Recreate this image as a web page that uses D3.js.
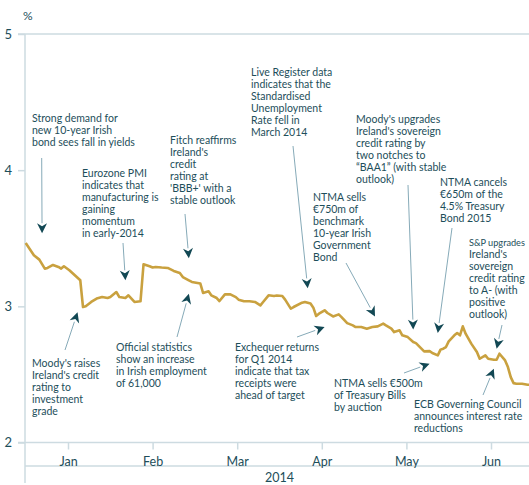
<!DOCTYPE html>
<html>
<head>
<meta charset="utf-8">
<script src="https://cdn.jsdelivr.net/npm/d3@7"></script>
<style>
  body { margin: 0; background: #fff; }
  svg { display: block; font-family: Lato, "Open Sans", sans-serif; }
</style>
</head>
<body>
<svg id="chart" width="529" height="485"></svg>
<script>
// Irish 10-year bond yield, Jan-Jun 2014 (%)
const dates = [
  "2014-01-01","2014-01-04","2014-01-06","2014-01-08","2014-01-09","2014-01-11","2014-01-13","2014-01-14","2014-01-15","2014-01-17","2014-01-19","2014-01-21","2014-01-22","2014-01-23","2014-01-25","2014-01-27","2014-01-29","2014-01-31",
  "2014-02-01","2014-02-03","2014-02-04","2014-02-06","2014-02-07","2014-02-09","2014-02-11","2014-02-12","2014-02-14","2014-02-15","2014-02-16","2014-02-18","2014-02-20","2014-02-22","2014-02-24","2014-02-25","2014-02-27","2014-02-28",
  "2014-03-03","2014-03-04","2014-03-06","2014-03-07","2014-03-09","2014-03-10","2014-03-12","2014-03-14","2014-03-16","2014-03-17","2014-03-19","2014-03-21","2014-03-23","2014-03-25","2014-03-26","2014-03-28","2014-03-30","2014-03-31",
  "2014-04-02","2014-04-03","2014-04-05","2014-04-06","2014-04-09","2014-04-10","2014-04-12","2014-04-13","2014-04-14","2014-04-15","2014-04-17","2014-04-18","2014-04-20","2014-04-22","2014-04-23","2014-04-25","2014-04-27","2014-04-28","2014-04-30",
  "2014-05-02","2014-05-04","2014-05-06","2014-05-08","2014-05-09","2014-05-11","2014-05-12","2014-05-14","2014-05-15","2014-05-17","2014-05-19","2014-05-20","2014-05-22","2014-05-23","2014-05-25","2014-05-26","2014-05-28","2014-05-29","2014-05-30","2014-05-31",
  "2014-06-01","2014-06-03","2014-06-04","2014-06-05","2014-06-06","2014-06-07","2014-06-09","2014-06-11","2014-06-12","2014-06-14","2014-06-15","2014-06-17","2014-06-18","2014-06-19","2014-06-21","2014-06-22","2014-06-23","2014-06-24","2014-06-25","2014-06-27","2014-06-29","2014-06-30"
];
const yields = [
  3.465,3.375,3.343,3.277,3.282,3.304,3.289,3.277,3.294,3.265,3.228,3.191,2.995,3.000,3.032,3.057,3.068,3.061,
  3.068,3.105,3.068,3.061,3.081,3.032,3.037,3.309,3.294,3.285,3.289,3.285,3.282,3.260,3.245,3.215,3.191,3.179,
  3.167,3.098,3.110,3.081,3.061,3.039,3.088,3.088,3.068,3.049,3.037,3.037,3.032,3.007,3.032,3.081,3.076,3.079,
  3.076,3.049,2.983,2.995,3.027,3.032,3.020,2.990,2.929,2.946,2.971,2.951,2.926,2.941,2.921,2.877,2.860,2.848,2.848,
  2.836,2.848,2.853,2.873,2.860,2.836,2.811,2.824,2.787,2.774,2.738,2.730,2.689,2.669,2.671,2.657,2.640,2.682,2.689,2.701,
  2.743,2.787,2.804,2.787,2.853,2.799,2.726,2.664,2.615,2.640,2.615,2.608,2.608,2.652,2.603,2.554,2.480,2.436,2.432,2.432,2.424,2.424
];
const monthLabels = ["Jan","Feb","Mar","Apr","May","Jun"];
const yTicks = [2,3,4,5];
const yearLabel = "2014";

// annotation texts, arrow tip anchored to a date/value
const noteText = [
  ["Strong demand for","new 10-year Irish","bond sees fall in yields"],
  ["Eurozone PMI","indicates that","manufacturing is","gaining","momentum","in early-2014"],
  ["Fitch reaffirms","Ireland's","credit","rating at","'BBB+' with a","stable outlook"],
  ["Live Register data","indicates that the","Standardised","Unemployment","Rate fell in","March 2014"],
  ["Moody's upgrades","Ireland's sovereign","credit rating by","two notches to","\u201cBAA1\u201d (with stable","outlook)"],
  ["NTMA sells","\u20ac750m of","benchmark","10-year Irish","Government","Bond"],
  ["NTMA cancels","\u20ac650m of the","4.5% Treasury","Bond 2015"],
  ["S&P upgrades","Ireland's","sovereign","credit rating","to A- (with","positive","outlook)"],
  ["Moody's raises","Ireland's credit","rating to","investment","grade"],
  ["Official statistics","show an increase","in Irish employment","of 61,000"],
  ["Exchequer returns","for Q1 2014","indicate that tax","receipts were","ahead of target"],
  ["NTMA sells \u20ac500m","of Treasury Bills","by auction"],
  ["ECB Governing Council","announces interest rate","reductions"]
];
const noteTipDate = ["2014-01-07","2014-02-06","2014-02-27","2014-04-11","2014-05-19","2014-05-05","2014-05-28","2014-06-18","2014-01-20","2014-02-27","2014-04-17","2014-05-25","2014-06-17"];
const noteTipValue = [3.537,3.191,3.353,3.132,2.829,2.926,2.805,2.689,2.956,3.093,2.848,2.579,2.542];

// layout of the notes (pixels): text left/top baseline, arrow tail
const noteLayout = [
  {tx:32, ty:122, ax:41.7, ay:158},
  {tx:82, ty:177, ax:123, ay:243},
  {tx:170, ty:144, ax:185, ay:214},
  {tx:251, ty:76, ax:293, ay:146},
  {tx:356, ty:123, ax:408, ay:185},
  {tx:313, ty:201, ax:346, ay:263},
  {tx:440, ty:186, ax:452, ay:228},
  {tx:469, ty:246, ax:502, ay:325},
  {tx:32, ty:367, ax:65, ay:350},
  {tx:116, ty:351, ax:177, ay:337},
  {tx:235, ty:351, ax:297, ay:337},
  {tx:334, ty:387, ax:404, ay:373},
  {tx:414, ty:408, ax:483, ay:395}
];

const W = 529, H = 485;
const gridCol = "#cddbe1", textCol = "#1d4e5a", headCol = "#124854", shaftCol = "#86aab8", lineCol = "#c9a13f";

const parse = d3.timeParse("%Y-%m-%d");
const data = dates.map((d, i) => ({date: parse(d), value: yields[i]}));

const monthStarts = d3.range(7).map(m => new Date(2014, m, 1));
const left = 25.7, monthW = 84.6;
const x = d3.scaleTime()
  .domain(monthStarts)
  .range(monthStarts.map((d, i) => left + i * monthW));
const y = d3.scaleLinear().domain([2, 5]).range([442.5, 34]);

const svg = d3.select("#chart");

// y axis line and ticks
svg.append("line")
  .attr("x1", 25).attr("x2", 25).attr("y1", 34).attr("y2", 483)
  .attr("stroke", gridCol).attr("stroke-width", 1.5);
svg.append("line")
  .attr("x1", 18).attr("x2", W).attr("y1", y(5)).attr("y2", y(5))
  .attr("stroke", gridCol).attr("stroke-width", 1.5);
svg.append("line")
  .attr("x1", 18).attr("x2", W).attr("y1", y(2)).attr("y2", y(2))
  .attr("stroke", gridCol).attr("stroke-width", 1.5);
svg.append("line")
  .attr("x1", 25).attr("x2", W).attr("y1", 466).attr("y2", 466)
  .attr("stroke", gridCol).attr("stroke-width", 1.5);

const yAxis = d3.axisLeft(y).tickValues(yTicks).tickSize(7).tickPadding(6).tickFormat(d3.format("d"));
const gy = svg.append("g").attr("transform", "translate(25,0)").call(yAxis);
gy.select(".domain").remove();
gy.selectAll(".tick line").attr("stroke", gridCol).attr("stroke-width", 1.5);
gy.selectAll(".tick text").attr("fill", textCol).style("font-size", "13px")
  .style("font-family", "Lato, sans-serif");

svg.append("text").attr("x", 23).attr("y", 20).text("%")
  .attr("fill", textCol).style("font-size", "12px");

// x axis: month labels centred in each month
const mids = monthLabels.map((m, i) => new Date((monthStarts[i].getTime() + monthStarts[i + 1].getTime()) / 2));
const xAxis = d3.axisBottom(x).tickValues(mids).tickSize(7).tickPadding(8)
  .tickFormat((d, i) => monthLabels[i]);
const gx = svg.append("g").attr("transform", `translate(0,${y(2)})`).call(xAxis);
gx.select(".domain").remove();
gx.selectAll(".tick line").attr("stroke", gridCol).attr("stroke-width", 1.5);
gx.selectAll(".tick text").attr("fill", textCol).style("font-size", "12.5px")
  .style("font-family", "Lato, sans-serif");

svg.append("text").attr("x", (left + x(monthStarts[6])) / 2).attr("y", 481.5)
  .attr("text-anchor", "middle").text(yearLabel)
  .attr("fill", textCol).style("font-size", "12.5px");

// yield line
const line = d3.line().x(d => x(d.date)).y(d => y(d.value));
svg.append("path").datum(data)
  .attr("d", line)
  .attr("fill", "none").attr("stroke", lineCol)
  .attr("stroke-width", 2.6).attr("stroke-linejoin", "round");

// annotations
noteText.forEach((lines, i) => {
  const L = noteLayout[i];
  const tipX = x(parse(noteTipDate[i])), tipY = y(noteTipValue[i]);
  const ang = Math.atan2(tipY - L.ay, tipX - L.ax);
  const hl = 10, hw = 5;
  const bx = tipX - hl * Math.cos(ang), by = tipY - hl * Math.sin(ang);
  svg.append("line")
    .attr("x1", L.ax).attr("y1", L.ay).attr("x2", bx).attr("y2", by)
    .attr("stroke", shaftCol).attr("stroke-width", 1);
  const px = -Math.sin(ang), py = Math.cos(ang);
  const notch = 3;
  const nx = bx + notch * Math.cos(ang), ny = by + notch * Math.sin(ang);
  svg.append("path")
    .attr("d", `M${tipX},${tipY}L${bx + hw * px},${by + hw * py}L${nx},${ny}L${bx - hw * px},${by - hw * py}Z`)
    .attr("fill", headCol);
  lines.forEach((s, j) => {
    const t = svg.append("text").attr("fill", textCol).style("font-size", "10.5px")
      .attr("x", L.tx).attr("y", L.ty + j * 12).text(s);
    // shrink a line that would run past the right edge
    const room = W - 4 - L.tx;
    const len = t.node().getComputedTextLength();
    if (len > room) t.style("font-size", (10.5 * room / len).toFixed(2) + "px");
  });
});
</script>
</body>
</html>
